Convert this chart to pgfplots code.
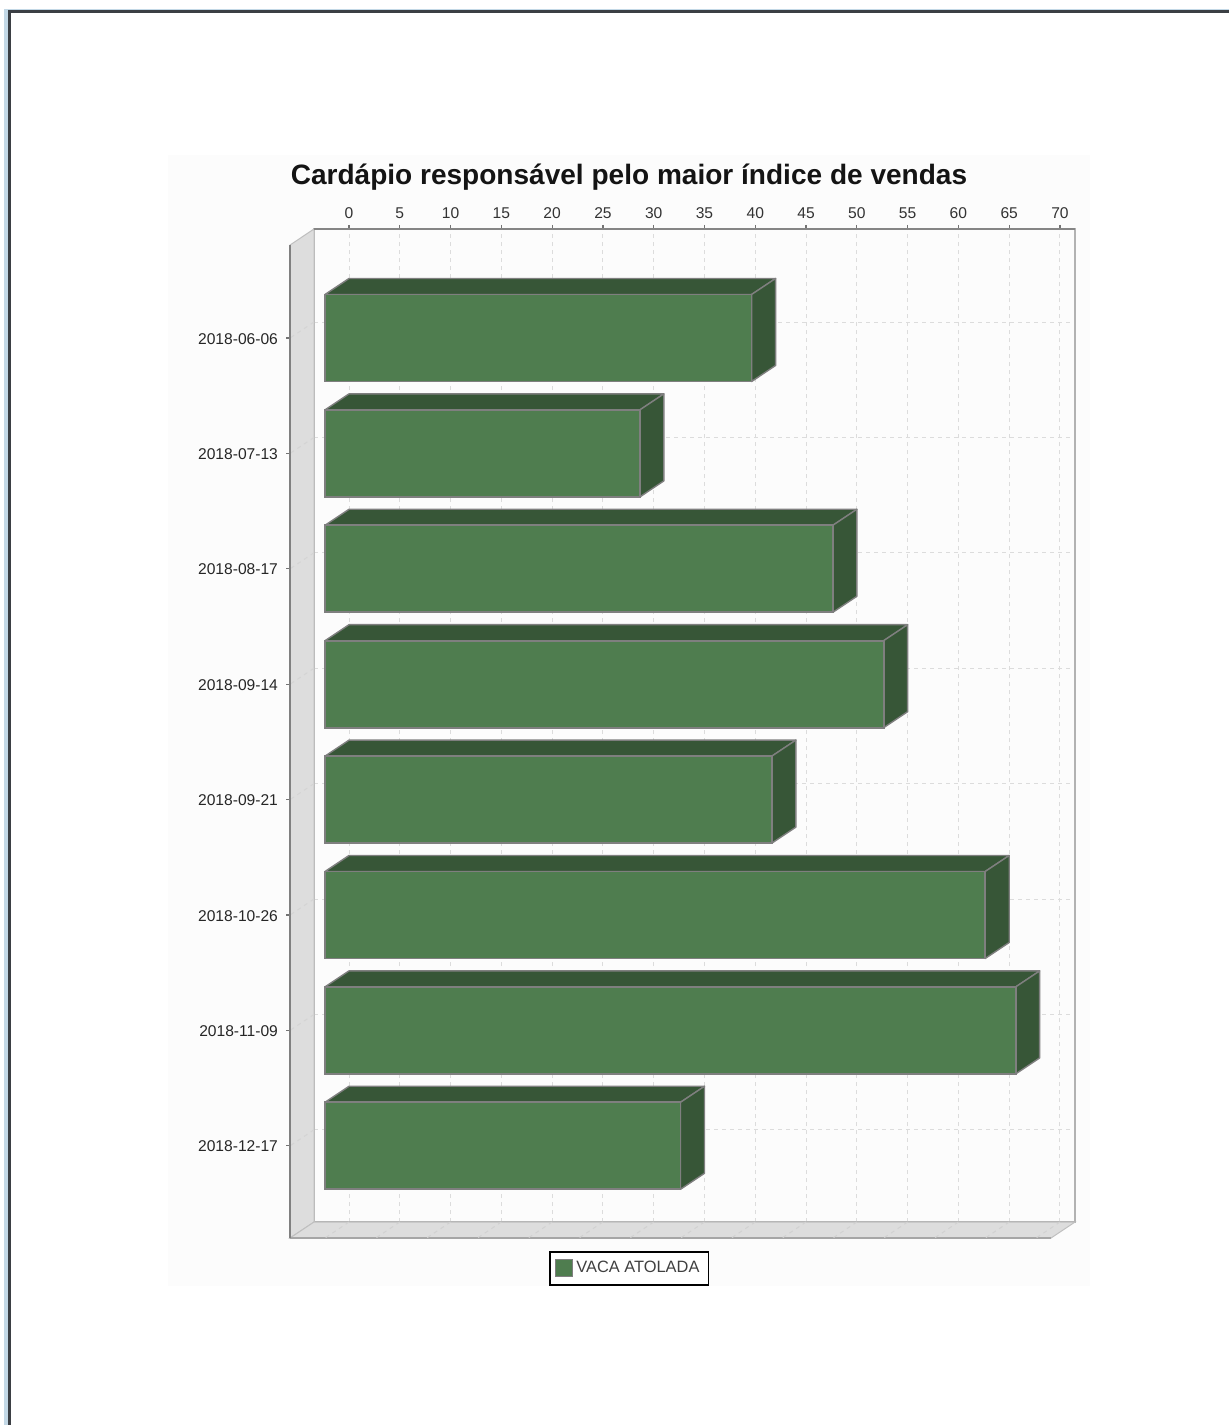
\documentclass[border=0pt]{standalone}
\usepackage{fontspec}
\setmainfont{Liberation Sans}
\usepackage{pgfplots}
\pgfplotsset{compat=1.18}
\definecolor{barfront}{HTML}{4F7D4F}
\definecolor{bardark}{HTML}{375637}
\definecolor{barline}{HTML}{7F7F7F}
\definecolor{wall}{HTML}{DDDDDD}
\definecolor{panel}{HTML}{FCFCFC}
\definecolor{gridc}{HTML}{DCDCDC}
\definecolor{frameblue}{HTML}{C3D8E6}
\definecolor{framedark}{HTML}{3B3F44}
\newcommand{\smallfont}{\fontsize{7.8}{9}\selectfont}
\tikzset{griddash/.style={draw=gridc,line width=.5pt,dash pattern=on 2pt off 2pt}}
\pgfplotsset{face/.style={fill=bardark,draw=barline,line width=.7pt,line join=round,forget plot}}
\begin{document}
\begin{tikzpicture}
\path[use as bounding box,fill=white] (0,0) rectangle (614.5pt,-712.5pt);
% page frame
\fill[frameblue] (2pt,-4.3pt) rectangle (614.5pt,-5pt);
\fill[frameblue] (2pt,-4.3pt) rectangle (4pt,-712.5pt);
\fill[framedark] (4pt,-5pt) rectangle (614.5pt,-6.4pt);
\fill[framedark] (4pt,-5pt) rectangle (5.3pt,-712.5pt);
% chart panel
\fill[panel] (84pt,-77.5pt) rectangle (545pt,-643pt);
\node[font=\bfseries\fontsize{14.02}{16}\selectfont,text=black!92] at (314.5pt,-88.5pt)
  {Cardápio responsável pelo maior índice de vendas};

% rear wall: grid, value axis on top
\begin{axis}[
  at={(157pt,-611pt)},anchor=south west,
  scale only axis,width=380.5pt,height=496.5pt,
  xmin=-3.446,xmax=71.478,ymin=-0.799,ymax=7.806,
  clip=false,
  axis line style={draw=black!30,line width=.8pt},
  xtick={0,5,...,70},ytick={0,...,7},yticklabels={},
  xtick pos=upper,xticklabel pos=upper,
  tick align=outside,
  major tick length=2pt,
  x tick style={draw=black!55,line width=.6pt},
  y tick style={draw=none},
  xticklabel style={font=\smallfont,text=black!80,yshift=-.6pt},
  /pgf/number format/assume math mode=true,
  grid=major,grid style={griddash},
]
% side and floor walls
\addplot[fill=wall,draw=black!25,line width=.5pt,forget plot] coordinates
  {(-3.446,-0.799) (-5.809,-0.938) (-5.809,7.667) (-3.446,7.806)} -- cycle;
\addplot[fill=wall,draw=black!25,line width=.5pt,forget plot] coordinates
  {(-3.446,-0.799) (-5.809,-0.938) (69.115,-0.938) (71.478,-0.799)} -- cycle;
\draw[draw=black!35,line width=.8pt] (axis cs:-5.809,-0.938) -- (axis cs:69.115,-0.938);
\draw[draw=black!48,line width=.8pt] (axis cs:-3.446,7.806) -- (axis cs:71.478,7.806);
\pgfplotsinvokeforeach{0,5,...,70}{
  \draw[griddash,draw=black!18] (axis cs:#1,-0.799) -- (axis cs:#1-2.363,-0.938);
}
\pgfplotsinvokeforeach{0,...,7}{
  \draw[griddash,draw=black!17] (axis cs:-3.446,#1) -- (axis cs:-5.809,#1-0.1388);
}
\end{axis}

% front plane: category axis and the bars
\begin{axis}[
  at={(145pt,-619pt)},anchor=south west,
  scale only axis,width=380.5pt,height=496.5pt,
  xmin=-3.446,xmax=71.478,ymin=-0.799,ymax=7.806,
  clip=false,
  axis x line=none,
  axis y line*=left,
  y axis line style={draw=black!50,line width=.9pt},
  ytick={0,...,7},
  yticklabels={2018-12-17,2018-11-09,2018-10-26,2018-09-21,2018-09-14,2018-08-17,2018-07-13,2018-06-06},
  tick align=outside,
  major tick length=2pt,
  y tick style={draw=black!55,line width=.6pt},
  yticklabel style={font=\smallfont,text=black!85,xshift=-.5pt,yshift=-.4pt},
  legend style={at={(axis description cs:0.4455,-0.0131)},anchor=north,
    draw=black,line width=.9pt,fill=white,font=\fontsize{8.2}{9.5}\selectfont,text=black!75,
    inner xsep=2.5pt,inner ysep=2.6pt},
  legend image code/.code={
    \draw[fill=barfront,draw=barline,line width=.4pt] (0pt,-4.25pt) rectangle (8.5pt,4.25pt);
  },
]
% top faces
\addplot[face] coordinates {(0,7.377) (2.363,7.5158) (44.363,7.5158) (42,7.377)} -- cycle;
\addplot[face] coordinates {(0,6.377) (2.363,6.5158) (33.363,6.5158) (31,6.377)} -- cycle;
\addplot[face] coordinates {(0,5.377) (2.363,5.5158) (52.363,5.5158) (50,5.377)} -- cycle;
\addplot[face] coordinates {(0,4.377) (2.363,4.5158) (57.363,4.5158) (55,4.377)} -- cycle;
\addplot[face] coordinates {(0,3.377) (2.363,3.5158) (46.363,3.5158) (44,3.377)} -- cycle;
\addplot[face] coordinates {(0,2.377) (2.363,2.5158) (67.363,2.5158) (65,2.377)} -- cycle;
\addplot[face] coordinates {(0,1.377) (2.363,1.5158) (70.363,1.5158) (68,1.377)} -- cycle;
\addplot[face] coordinates {(0,0.377) (2.363,0.5158) (37.363,0.5158) (35,0.377)} -- cycle;
% end faces
\addplot[face] coordinates {(42,7.377) (44.363,7.5158) (44.363,6.7618) (42,6.623)} -- cycle;
\addplot[face] coordinates {(31,6.377) (33.363,6.5158) (33.363,5.7618) (31,5.623)} -- cycle;
\addplot[face] coordinates {(50,5.377) (52.363,5.5158) (52.363,4.7618) (50,4.623)} -- cycle;
\addplot[face] coordinates {(55,4.377) (57.363,4.5158) (57.363,3.7618) (55,3.623)} -- cycle;
\addplot[face] coordinates {(44,3.377) (46.363,3.5158) (46.363,2.7618) (44,2.623)} -- cycle;
\addplot[face] coordinates {(65,2.377) (67.363,2.5158) (67.363,1.7618) (65,1.623)} -- cycle;
\addplot[face] coordinates {(68,1.377) (70.363,1.5158) (70.363,0.7618) (68,0.623)} -- cycle;
\addplot[face] coordinates {(35,0.377) (37.363,0.5158) (37.363,-0.2382) (35,-0.377)} -- cycle;
% front faces
\addplot[xbar,bar width=43.5pt,fill=barfront,draw=barline,line width=.9pt] coordinates
  {(42,7) (31,6) (50,5) (55,4) (44,3) (65,2) (68,1) (35,0)};
\addlegendentry{VACA ATOLADA}
\end{axis}
\end{tikzpicture}
\end{document}
